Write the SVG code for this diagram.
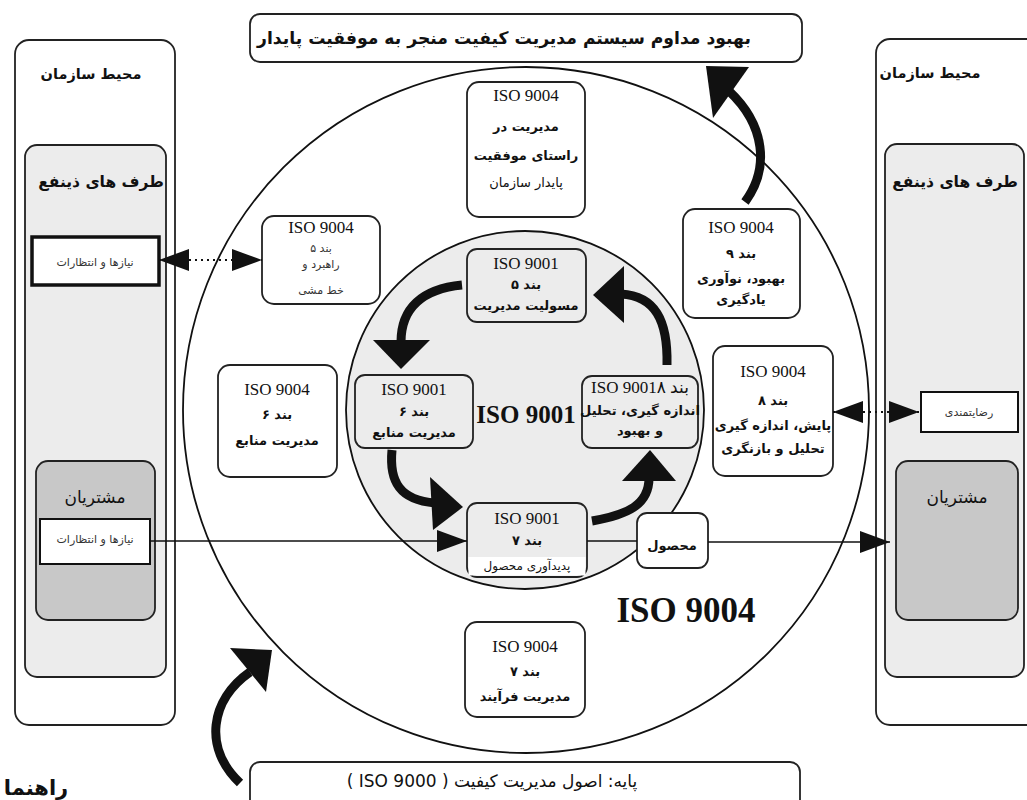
<svg xmlns="http://www.w3.org/2000/svg" width="1027" height="800" viewBox="0 0 1027 800">
<style>
.w{fill:#fff;stroke:#222;stroke-width:1.8}
.lg{fill:#ececec;stroke:#222;stroke-width:1.8}
.dg{fill:#c8c8c8;stroke:#222;stroke-width:1.8}
.t{font-family:"Liberation Serif","DejaVu Sans",serif;fill:#111;text-anchor:middle}
.fa{font-family:"DejaVu Sans",sans-serif;fill:#111;text-anchor:middle;direction:rtl}
.b{font-weight:bold}
.iso{font-size:17px}
.n{font-size:13px}
.s{font-size:11px;fill:#333}
.th{fill:none;stroke:#111;stroke-width:9}
.hd{fill:#111}
.ln{stroke:#111;stroke-width:1.6;fill:none}
.dot{stroke:#111;stroke-width:2;stroke-dasharray:2 4;fill:none}
</style>
<defs>
<marker id="ah" viewBox="0 0 30 22" refX="30" refY="11" markerWidth="30" markerHeight="22" markerUnits="userSpaceOnUse" orient="auto-start-reverse"><path d="M0,0 L30,11 L0,22 z" fill="#111"/></marker>
</defs>
<rect width="1027" height="800" fill="#fff"/>

<g id="left-panel">
<rect class="w" x="15" y="40" width="160" height="685" rx="14"/>
<text class="fa b" x="91" y="79" font-size="14.5">محیط سازمان</text>
<rect class="lg" x="25" y="145" width="141" height="532" rx="12"/>
<text class="fa b" x="101" y="187" font-size="15.5">طرف های ذینفع</text>
<rect x="32" y="237" width="127" height="48" fill="#fff" stroke="#111" stroke-width="3.5"/>
<text class="fa s" x="95" y="266">نیازها و انتظارات</text>
<rect class="dg" x="36" y="461" width="119" height="159" rx="12"/>
<text class="fa" x="95" y="503" font-size="17">مشتریان</text>
<rect x="40" y="519" width="110" height="45" fill="#fff" stroke="#111" stroke-width="2"/>
<text class="fa s" x="95" y="543">نیازها و انتظارات</text>
</g>

<g id="right-panel">
<rect class="w" x="876" y="39" width="170" height="686" rx="14"/>
<text class="fa b" x="930" y="78" font-size="14.5">محیط سازمان</text>
<rect class="lg" x="885" y="144" width="139" height="533" rx="12"/>
<text class="fa b" x="955" y="187" font-size="15.5">طرف های ذینفع</text>
<rect x="921" y="392" width="97" height="40" fill="#fff" stroke="#111" stroke-width="2"/>
<text class="fa s" x="969" y="416">رضایتمندی</text>
<rect class="dg" x="896" y="461" width="122" height="159" rx="12"/>
<text class="fa" x="957" y="503" font-size="17">مشتریان</text>
</g>

<g id="top-banner">
<rect class="w" x="250" y="14" width="552" height="48" rx="10"/>
<text class="fa b" x="504" y="44" font-size="17.2">بهبود مداوم سیستم مدیریت کیفیت منجر به موفقیت پایدار</text>
</g>

<g id="bottom-banner">
<rect class="w" x="250" y="762" width="550" height="48" rx="10"/>
<text class="fa" x="492" y="787" font-size="17" font-family="Liberation Serif, DejaVu Sans, serif">پایه: اصول مدیریت کیفیت ( ISO 9000 )</text>
</g>

<text class="fa b" x="36" y="795" font-size="21">راهنما</text>

<g id="iso9004-circle">
<circle cx="526" cy="410" r="343" fill="none" stroke="#111" stroke-width="1.8"/>
<text class="t b" x="686" y="622" font-size="35">ISO 9004</text>
</g>

<g id="iso9001-circle">
<circle cx="525" cy="410" r="179" fill="#ececec" stroke="#111" stroke-width="1.8"/>
<text class="t b" x="526" y="423" font-size="25">ISO 9001</text>
</g>

<g id="n9004-top">
<rect class="w" x="467" y="82" width="118" height="135" rx="12"/>
<text class="t iso" x="526" y="101">ISO 9004</text>
<text class="fa b n" x="526" y="131">مدیریت در</text>
<text class="fa b n" x="526" y="160">راستای موفقیت</text>
<text class="fa n" x="526" y="187">پایدار سازمان</text>
</g>

<g id="n9004-5">
<rect class="w" x="262" y="216" width="118" height="88" rx="12"/>
<text class="t iso" x="321" y="233">ISO 9004</text>
<text class="fa s" x="321" y="252">بند ۵</text>
<text class="fa s" x="321" y="268">راهبرد و</text>
<text class="fa s" x="321" y="294">خط مشی</text>
</g>

<g id="n9004-9">
<rect class="w" x="683" y="209" width="117" height="109" rx="12"/>
<text class="t iso" x="741" y="233">ISO 9004</text>
<text class="fa b n" x="741" y="258">بند ۹</text>
<text class="fa b n" x="741" y="283">بهبود، نوآوری</text>
<text class="fa b n" x="741" y="304">یادگیری</text>
</g>

<g id="n9004-6">
<rect class="w" x="218" y="365" width="119" height="112" rx="12"/>
<text class="t iso" x="277" y="395">ISO 9004</text>
<text class="fa b n" x="277" y="419">بند ۶</text>
<text class="fa b n" x="277" y="445">مدیریت منابع</text>
</g>

<g id="n9004-8">
<rect class="w" x="713" y="346" width="120" height="130" rx="12"/>
<text class="t iso" x="773" y="377">ISO 9004</text>
<text class="fa b n" x="773" y="405">بند ۸</text>
<text class="fa b n" x="773" y="430">پایش، اندازه گیری</text>
<text class="fa b n" x="773" y="453">تحلیل و بازنگری</text>
</g>

<g id="n9004-7">
<rect class="w" x="465" y="622" width="120" height="95" rx="12"/>
<text class="t iso" x="525" y="652">ISO 9004</text>
<text class="fa b n" x="525" y="676">بند ۷</text>
<text class="fa b n" x="525" y="701">مدیریت فرآیند</text>
</g>

<g id="n9001-5">
<rect class="lg" x="467" y="249" width="119" height="73" rx="10"/>
<text class="t iso" x="526" y="269">ISO 9001</text>
<text class="fa b n" x="526" y="289">بند ۵</text>
<text class="fa b n" x="526" y="310">مسولیت مدیریت</text>
</g>

<g id="n9001-6">
<rect class="lg" x="355" y="375" width="118" height="73" rx="10"/>
<text class="t iso" x="414" y="395">ISO 9001</text>
<text class="fa b n" x="414" y="416">بند ۶</text>
<text class="fa b n" x="414" y="437">مدیریت منابع</text>
</g>

<g id="n9001-8">
<rect class="lg" x="582" y="376" width="116" height="72" rx="10"/>
<text class="t iso" x="640" y="393">ISO 9001۸ بند</text>
<text class="fa b n" x="640" y="415">اندازه گیری، تحلیل</text>
<text class="fa b n" x="640" y="435">و بهبود</text>
</g>

<g id="n9001-7">
<rect class="lg" x="467" y="503" width="120" height="74" rx="10"/>
<rect x="468.5" y="557" width="117" height="18.5" fill="#fff"/>
<text class="t iso" x="527" y="524">ISO 9001</text>
<text class="fa b n" x="527" y="545">بند ۷</text>
<text class="fa" x="527" y="570" font-size="12">پدیدآوری محصول</text>
</g>

<g id="n-product">
<rect class="w" x="637" y="513" width="71" height="55" rx="10"/>
<text class="fa b n" x="672" y="550">محصول</text>
</g>

<g id="connectors">
<line class="dot" x1="159" y1="260" x2="262" y2="260" marker-start="url(#ah)" marker-end="url(#ah)"/>
<line class="dot" x1="833" y1="412" x2="919" y2="412" marker-start="url(#ah)" marker-end="url(#ah)"/>
<line class="ln" x1="150" y1="541" x2="467" y2="541" marker-end="url(#ah)"/>
<line class="ln" x1="587" y1="541" x2="637" y2="541"/>
<line class="ln" x1="708" y1="542" x2="890" y2="542" marker-end="url(#ah)"/>

<path class="th" d="M462,285 C422,289 401,308 401,342"/>
<polygon class="hd" points="373,340 430,340 401,369"/>
<path class="th" d="M667,365 C668,320 655,296 621,294"/>
<polygon class="hd" points="624,266 624,323 593,295"/>
<path class="th" d="M392,450 C389,482 400,500 435,503"/>
<polygon class="hd" points="430,477 433,530 463,507"/>
<path class="th" d="M592,521 C627,515 649,505 649,478"/>
<polygon class="hd" points="622,481 676,481 650,450"/>
<path class="th" d="M745,202 C770,168 765,125 729,91"/>
<polygon class="hd" points="749,67 713,118 706,66"/>
<path class="th" d="M240,783 C203,748 210,700 250,672"/>
<polygon class="hd" points="230,648 266,692 272,650"/>
</g>
</svg>
